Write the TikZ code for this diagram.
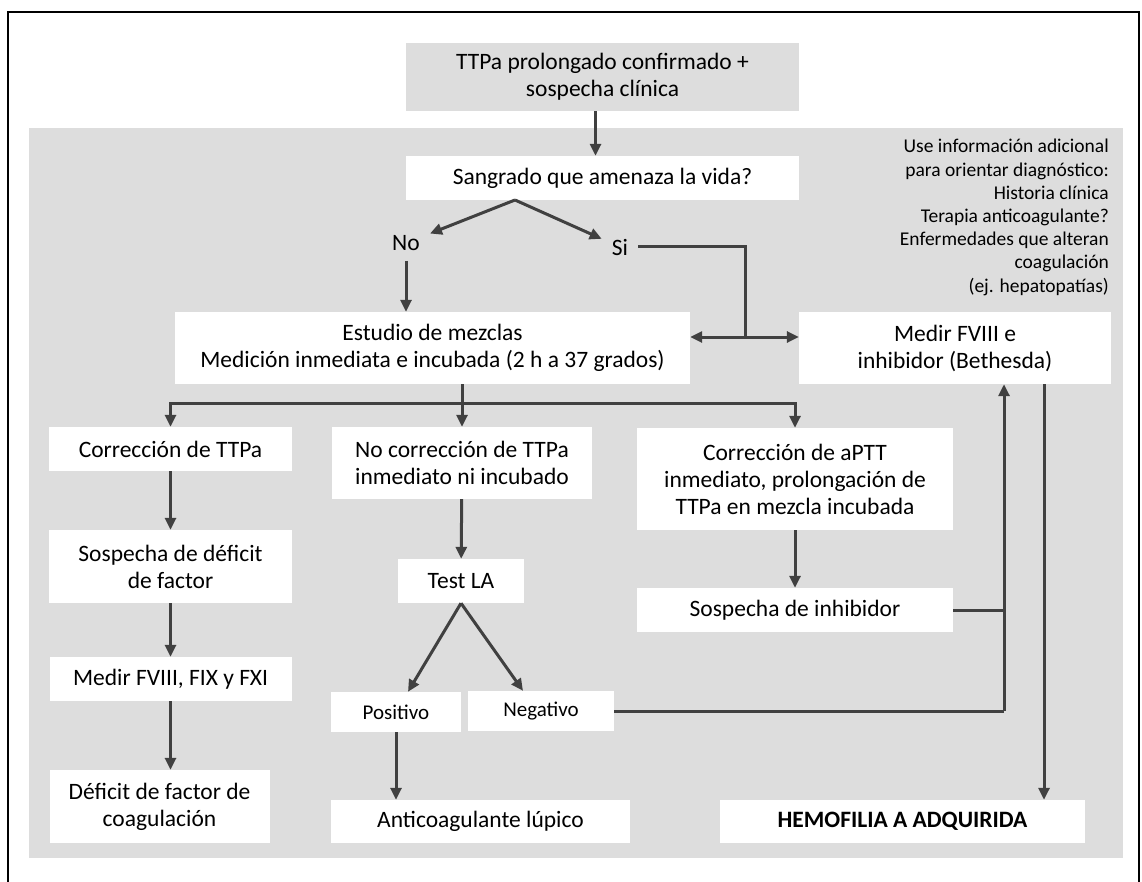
\documentclass[tikz,border=0pt]{standalone}
\usepackage{fontspec}
\setmainfont{Carlito}
\usetikzlibrary{arrows.meta,positioning,calc}
\definecolor{panelgray}{RGB}{221,221,221}
\definecolor{linegray}{RGB}{64,64,64}

\begin{document}
\begin{tikzpicture}[x=1pt,y=-1pt,
    box/.style={fill=white, align=center, inner sep=0pt, font=\fontsize{23.5}{27}\selectfont},
    small/.style={box, font=\fontsize{21}{24}\selectfont},
    lbl/.style={inner sep=10pt, font=\fontsize{23.5}{27}\selectfont},
    flow/.style={draw=linegray, line width=3pt, -{Triangle[length=12pt,width=11pt]}},
    link/.style={draw=linegray, line width=3pt}]
    \useasboundingbox (0,0) rectangle (1142,882);
    % Frame and panel
    \draw[line width=1.4pt] (8,882) -- (8,12) -- (1139,12) -- (1139,882);
    \fill[panelgray] (29,128) rectangle (1123,858);
    % Boxes
    \node[box, fill=panelgray, minimum width=393, minimum height=68] (ttpa) at (602.5,77) {TTPa prolongado confirmado +\\sospecha clínica};
    \node[box, minimum width=393, minimum height=44] (sangrado) at (602.5,178) {Sangrado que amenaza la vida?};
    \node[lbl] (no) at (406,243) {No};
    \node[lbl] (si) at (620,247) {Si};
    \node[box, minimum width=515, minimum height=72] (mezclas) at (432.5,348) {Estudio de mezclas\\Medición inmediata e incubada (2 h a 37 grados)};
    \node[box, minimum width=312, minimum height=72] (medir) at (955,348) {Medir FVIII e\\inhibidor (Bethesda)};
    \node[anchor=east, align=right, inner sep=0pt, font=\fontsize{19.5}{23.2}\selectfont] (nota) at (1109,217.5)
      {Use información adicional\\para orientar diagnóstico:\\Historia clínica\\Terapia anticoagulante?\\Enfermedades que alteran\\coagulación\\(ej. hepatopatías)};
    \node[box, minimum width=243, minimum height=44] (corr) at (170.5,449) {Corrección de TTPa};
    \node[box, minimum width=260, minimum height=72] (nocorr) at (462,463) {No corrección de TTPa\\inmediato ni incubado};
    \node[box, minimum width=316, minimum height=102] (aptt) at (795,479) {Corrección de aPTT\\inmediato, prolongación de\\TTPa en mezcla incubada};
    \node[box, minimum width=243, minimum height=73] (sospdef) at (170.5,566.5) {Sospecha de déficit\\de factor};
    \node[box, minimum width=126, minimum height=44] (testla) at (461,581) {Test LA};
    \node[box, minimum width=316, minimum height=44] (sospinh) at (795,610) {Sospecha de inhibidor};
    \node[box, minimum width=242, minimum height=44] (medirf) at (170.5,679) {Medir FVIII, FIX y FXI};
    \node[small, minimum width=130, minimum height=40] (pos) at (396,712) {Positivo};
    \node[small, minimum width=146, minimum height=40] (neg) at (541,711) {Negativo};
    \node[box, minimum width=220, minimum height=73] (deficit) at (159.5,806.5) {Déficit de factor de\\coagulación};
    \node[box, minimum width=299, minimum height=43] (lupico) at (480.5,821.5) {Anticoagulante lúpico};
    \node[box, minimum width=365, minimum height=43, font=\fontsize{23.5}{27}\selectfont\bfseries] (hemo) at (902.5,821.5) {HEMOFILIA A ADQUIRIDA};
    % Arrows
    \coordinate (fork) at (515,200);
    \coordinate (sibend) at (745,247);
    \coordinate (sijoin) at (745,337);
    \coordinate (split) at (462,403);
    \coordinate (negjoin) at (1004,711);
    \draw[flow] ([xshift=-7pt]ttpa.south) -- ([xshift=-7pt]sangrado.north);
    \draw[flow] (fork) -- (no);
    \draw[flow] (fork) -- (si);
    \draw[flow] (no.south) -- (no.south |- mezclas.north);
    \draw[link] (si.east) -- (sibend) -- (sijoin);
    \draw[flow] (sijoin) -- (sijoin -| mezclas.east);
    \draw[flow] (sijoin) -- (sijoin -| medir.west);
    \draw[link] (split |- mezclas.south) -- (split);
    \draw[flow] (split) -| (corr.north);
    \draw[flow] (split) -| (aptt.north);
    \draw[flow] (split) -- (nocorr.north);
    \draw[flow] (corr) -- (sospdef);
    \draw[flow] (sospdef) -- (medirf);
    \draw[flow] (medirf.south) -- (medirf.south |- deficit.north);
    \draw[flow] (nocorr) -- (testla);
    \draw[flow] (testla.south) -- ([xshift=12pt]pos.north);
    \draw[flow] (testla.south) -- ([xshift=-18pt]neg.north);
    \draw[flow] (pos.south) -- (pos.south |- lupico.north);
    \draw[flow] (aptt) -- (sospinh);
    \draw[link] (neg.east) -- (negjoin);
    \draw[link] (sospinh.east) -- (sospinh.east -| negjoin);
    \draw[flow] (negjoin) -- (negjoin |- medir.south);
    \draw[flow] ([xshift=89pt]medir.south) -- ([xshift=89pt]medir.south |- hemo.north);
\end{tikzpicture}
\end{document}
